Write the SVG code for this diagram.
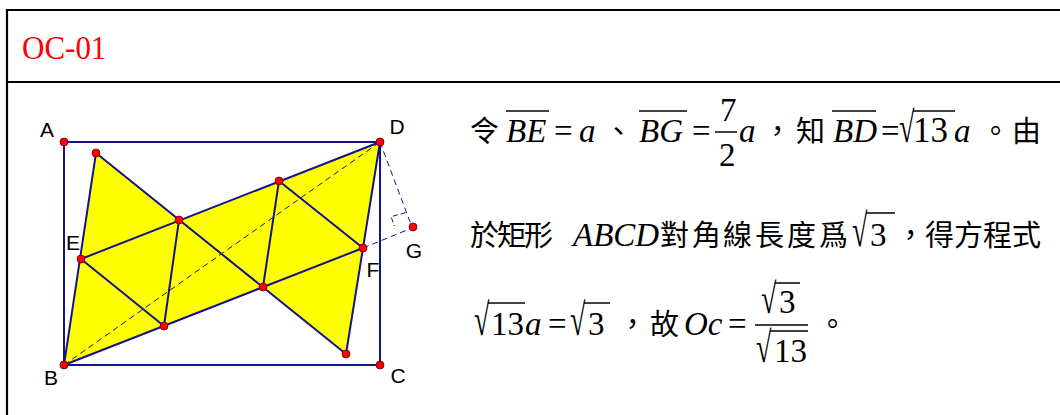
<svg xmlns="http://www.w3.org/2000/svg" width="1060" height="415" viewBox="0 0 1060 415">
<style>
.frame{fill:none;stroke:#000;stroke-width:2.2}
.ln{stroke:#14148a;stroke-width:2;fill:none;stroke-linecap:round}
.dash{stroke:#14148a;stroke-width:1;fill:none;stroke-dasharray:6 4}
.pt{fill:#ff0000;stroke:#600;stroke-width:0.8}
.lbl{font-family:"Liberation Sans",Arial,sans-serif;font-size:21px;fill:#000;text-anchor:middle}
.t{font-family:"Liberation Serif","Noto Sans CJK TC",serif;font-size:33px;fill:#000}
.i{font-style:italic}
.cjk{font-family:"Noto Sans CJK TC","Noto Sans CJK SC",sans-serif;font-size:29px;fill:#000}
.bar{stroke:#000;stroke-width:1.5}
</style>
<g id="frame">
<path class="frame" d="M7,420 V10 H1070"/>
<line class="frame" x1="7" y1="82" x2="1070" y2="82"/>
</g>
<g id="title"><text transform="translate(22,59) scale(1,1.12)" style="font-family:'Liberation Serif',serif;font-size:31px;fill:#ff0000">OC-01</text></g>
<g id="figure">
<polygon id="shape" points="96,153 179,220 380,142 363,248 346,354 263,287 64,365 81,259" fill="#ffff00" stroke="none"/>
<g id="connectors">
<rect class="ln" x="64" y="142" width="316" height="223"/>
<line class="ln" x1="96" y1="153" x2="64" y2="365"/>
<line class="ln" x1="380" y1="142" x2="346" y2="354"/>
<line class="ln" x1="81" y1="259" x2="380" y2="142"/>
<line class="ln" x1="64" y1="365" x2="363" y2="248"/>
<line class="ln" x1="96" y1="153" x2="346" y2="354"/>
<line class="ln" x1="81" y1="259" x2="164" y2="326"/>
<line class="ln" x1="179" y1="220" x2="164" y2="326"/>
<line class="ln" x1="279" y1="181" x2="263" y2="287"/>
<line class="ln" x1="279" y1="181" x2="363" y2="248"/>
<line class="dash" x1="64" y1="365" x2="380" y2="142"/>
<line class="dash" x1="380" y1="142" x2="412" y2="227"/>
<line class="dash" x1="363" y1="248" x2="412" y2="228"/>
<polyline class="dash" style="stroke-dasharray:5 3" points="405.5,212.7 391,216.7 394.5,226"/>
</g>
<g id="points">
<circle class="pt" id="pA" cx="64" cy="142" r="4"/>
<circle class="pt" id="pD" cx="380" cy="142" r="4"/>
<circle class="pt" id="pB" cx="64" cy="365" r="4"/>
<circle class="pt" id="pC" cx="380" cy="365" r="4"/>
<circle class="pt" cx="96" cy="153" r="4"/>
<circle class="pt" cx="179" cy="220" r="4"/>
<circle class="pt" cx="279" cy="181" r="4"/>
<circle class="pt" id="pE" cx="81" cy="259" r="4"/>
<circle class="pt" id="pF" cx="363" cy="248" r="4"/>
<circle class="pt" id="pG" cx="413" cy="227" r="4"/>
<circle class="pt" cx="263" cy="287" r="4"/>
<circle class="pt" cx="164" cy="326" r="4"/>
<circle class="pt" cx="346" cy="354" r="4"/>
</g>
<g id="labels">
<text class="lbl" x="47" y="137">A</text>
<text class="lbl" x="397" y="134">D</text>
<text class="lbl" x="73" y="250">E</text>
<text class="lbl" x="414" y="258">G</text>
<text class="lbl" x="373" y="277">F</text>
<text class="lbl" x="51" y="385">B</text>
<text class="lbl" x="398" y="383">C</text>
</g>
</g>
<g id="line1">
<text class="cjk" x="470" y="142">令</text>
<text class="t i" x="506" y="142">BE</text>
<line class="bar" x1="506" y1="111" x2="549" y2="111"/>
<text class="t" x="554" y="142">=</text>
<text class="t i" x="579" y="142">a</text>
<text class="cjk" x="604" y="142">、</text>
<text class="t i" x="639" y="142">BG</text>
<line class="bar" x1="639" y1="111" x2="687" y2="111"/>
<text class="t" x="692" y="142">=</text>
<text class="t" x="720" y="121">7</text>
<line class="bar" x1="715" y1="132" x2="737" y2="132"/>
<text class="t" x="719" y="166">2</text>
<text class="t i" x="739" y="142">a</text>
<text class="cjk" x="763" y="142">，</text>
<text class="cjk" x="796" y="142">知</text>
<text class="t i" x="833" y="142">BD</text>
<line class="bar" x1="832" y1="111" x2="876" y2="111"/>
<text class="t" x="881" y="142">=</text>
<text class="t" transform="translate(899,142) scale(0.85,1.32)">√</text>
<line class="bar" x1="913" y1="111" x2="955" y2="111"/>
<text class="t" x="913" y="142" style="font-size:35px">13</text>
<text class="t i" x="954" y="142">a</text>
<text class="cjk" x="981" y="142">。</text>
<text class="cjk" x="1012" y="142">由</text>
</g>
<g id="line2">
<text class="cjk" x="470 497 524" y="246">於矩形</text>
<text class="t i" x="573" y="246">ABCD</text>
<text class="cjk" x="660 692 723 755 787 819" y="246">對角線長度爲</text>
<text class="t" transform="translate(852,246) scale(0.85,1.41)">√</text>
<line class="bar" x1="866" y1="213" x2="895" y2="213"/>
<text class="t" x="870" y="246">3</text>
<text class="cjk" x="896" y="246">，</text>
<text class="cjk" x="925 954 983 1012" y="246">得方程式</text>
</g>
<g id="line3">
<text class="t" transform="translate(474,335) scale(0.85,1.37)">√</text>
<line class="bar" x1="488" y1="303" x2="525" y2="303"/>
<text class="t" x="491" y="335">13</text>
<text class="t i" x="525" y="335">a</text>
<text class="t" x="548" y="335">=</text>
<text class="t" transform="translate(570,335) scale(0.85,1.37)">√</text>
<line class="bar" x1="584" y1="303" x2="610" y2="303"/>
<text class="t" x="588" y="335">3</text>
<text class="cjk" x="618" y="335">，</text>
<text class="cjk" x="650" y="335">故</text>
<text class="t i" x="684" y="335">Oc</text>
<text class="t" x="728" y="335">=</text>
<line class="bar" x1="755" y1="325" x2="808" y2="325"/>
<text class="t" transform="translate(761,313) scale(0.85,1.28)">√</text>
<line class="bar" x1="775" y1="283" x2="800" y2="283"/>
<text class="t" x="779" y="313">3</text>
<text class="t" transform="translate(756,362) scale(0.85,1.32)">√</text>
<line class="bar" x1="770" y1="331" x2="808" y2="331"/>
<text class="t" x="774" y="362">13</text>
<text class="cjk" x="818" y="335">。</text>
</g>
</svg>
